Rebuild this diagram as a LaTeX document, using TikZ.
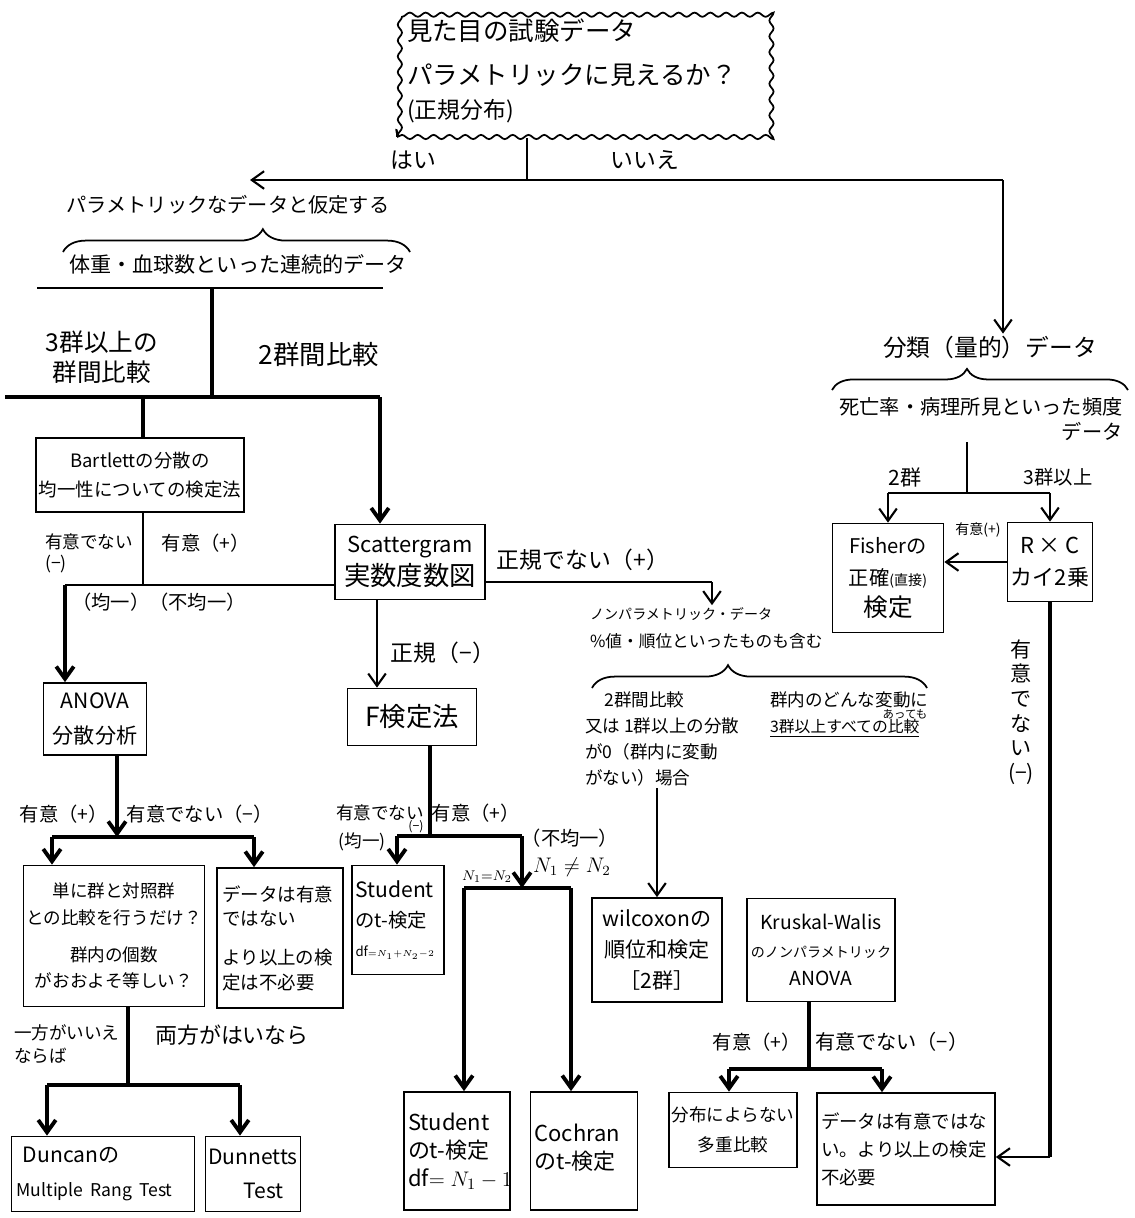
\documentclass[tikz,border=0pt]{standalone}
\usepackage{fontspec}
\setmainfont{Noto Sans CJK JP}
\usepackage{tikz}
\usetikzlibrary{arrows.meta,decorations.pathreplacing,decorations.pathmorphing}
\newcommand{\fz}[2]{\fontsize{#1pt}{#2pt}\selectfont}
\begin{document}
\begin{tikzpicture}[x=0.02cm, y=-0.02cm, inner sep=1pt,
    box/.style={draw, line width=1pt, inner sep=1.5pt, align=center},
    link/.style={line width=1.2pt},
    heavy/.style={line width=2.2pt},
    arr/.style={-{Straight Barb[length=7pt,width=10pt]}},
    brc/.style={decorate, line width=1pt}]
    \useasboundingbox (0,0) rectangle (1134,1218);
    \node (q) [draw, line width=1pt, decorate, decoration={snake, amplitude=1.2pt, segment length=9pt}, text width=7cm, inner xsep=0.2cm, minimum height=2.64cm, align=left, font=\fz{14.5}{19}] at (582,71) {見た目の試験データ\\[6pt]パラメトリックに見えるか？\\{\fz{13}{16}(正規分布)}};
    \coordinate (yn) at (527,180);
    \coordinate (yes) at (250,180);
    \coordinate (no) at (1003,180);
    \draw[link] (q.south -| yn) -- (yn);
    \draw[link,arr] (yn) -- (yes);
    \draw[link] (yn) -- (no);
    \node (lyes) [font=\fz{13}{16}] at (413,160) {はい};
    \node (lno) [font=\fz{13}{16}] at (645,160) {いいえ};

    \node (par) [font=\fz{11.5}{14}] at (228,205) {パラメトリックなデータと仮定する};
    \draw[brc, decoration={brace, amplitude=13pt, aspect=0.576}] (63,252) -- (410,252);
    \node (cont) [font=\fz{12}{14}] at (238,264) {体重・血球数といった連続的データ};
    \coordinate (p1a) at (37,288);
    \coordinate (p1b) at (383,288);
    \coordinate (p1c) at (212,288);
    \draw[link] (p1a) -- (p1b);
    \coordinate (p2a) at (5,397);
    \coordinate (p2b) at (380,397);
    \coordinate (p2c) at (212,397);
    \coordinate (p2d) at (143,397);
    \draw[heavy] (p1c) -- (p2c);
    \draw[heavy] (p2a) -- (p2b);
    \node (l3g) [font=\fz{14}{17}, align=center] at (102,357) {3群以上の\\群間比較};
    \node (l2g) [font=\fz{15}{18}] at (319,355) {2群間比較};

    \node (bart) [box, minimum width=4.08cm, minimum height=1.48cm, font=\fz{10.5}{17}] at (140,475) {Bartlettの分散の\\均一性についての検定法};
    \draw[heavy] (p2d) -- (bart.north -| p2d);
    \node (scat) [box, minimum width=3cm, minimum height=1.5cm, font=\fz{12.5}{19}] at (410,562) {Scattergram\\{\fz{15}{19}実数度数図}};
    \draw[heavy,arr] (p2b) -- (scat.north -| p2b);
    \coordinate (b1) at (143,585);
    \coordinate (b1a) at (65,585);
    \draw[link] (bart.south -| b1) -- (b1);
    \draw[link] (b1a) -- (scat.west |- b1a);
    \node (anova) [box, minimum width=2.06cm, minimum height=1.44cm, font=\fz{12}{20}] at (95,719) {ANOVA\\分散分析};
    \draw[heavy,arr] (b1a) -- (anova.north -| b1a);
    \node (lbn) [anchor=west, font=\fz{10}{12}, align=left] at (43,553) {有意でない\\(−)};
    \node (lbs) [font=\fz{11}{12}] at (206,543) {有意（+）};
    \node (lbu) [font=\fz{11}{12}] at (159,602) {（均一）（不均一）};

    \coordinate (a1) at (117,837);
    \coordinate (a1a) at (52,837);
    \coordinate (a1b) at (254,837);
    \draw[heavy,arr] (anova.south -| a1) -- (a1);
    \draw[heavy] (a1a) -- (a1b);
    \node (sg1) [box, minimum width=3.6cm, minimum height=2.82cm, font=\fz{10}{15}] at (114,936) {単に群と対照群\\との比較を行うだけ？\\[6pt]群内の個数\\がおおよそ等しい？};
    \node (sg2) [box, text width=2.3cm, inner xsep=0.11cm, minimum height=2.8cm, align=left, font=\fz{10.5}{14}] at (280,938) {データは有意\\ではない\\[8pt]より以上の検\\定は不必要};
    \draw[heavy,arr] (a1a) -- (sg1.north -| a1a);
    \draw[heavy,arr] (a1b) -- (sg2.north -| a1b);
    \node (lap) [font=\fz{11}{12}] at (64,814) {有意（+）};
    \node (lan) [font=\fz{11}{12}] at (200,814) {有意でない（−）};

    \coordinate (c1) at (128,1085);
    \coordinate (c1a) at (47,1085);
    \coordinate (c1b) at (240,1085);
    \draw[heavy] (sg1.south -| c1) -- (c1);
    \draw[heavy] (c1a) -- (c1b);
    \node (dunc) [box, text width=3.46cm, inner xsep=0.1cm, minimum height=1.5cm, align=left, font=\fz{12}{19}] at (103,1174) {\hspace{0.3em}Duncanの\\{\fz{10}{12}Multiple Rang Test}};
    \node (dunn) [box, minimum width=1.86cm, minimum height=1.5cm, font=\fz{12}{19}] at (253,1174) {Dunnetts\\\hspace{1em}Test};
    \draw[heavy,arr] (c1a) -- (dunc.north -| c1a);
    \draw[heavy,arr] (c1b) -- (dunn.north -| c1b);
    \node (lone) [anchor=west, font=\fz{10}{13}, align=left] at (12,1044) {一方がいいえ\\ならば};
    \node (lboth) [font=\fz{12.5}{14}] at (232,1035) {両方がはいなら};

    \node (ftest) [box, minimum width=2.58cm, minimum height=1.14cm, font=\fz{15}{18}] at (412,717) {F検定法};
    \coordinate (fx) at (377,600);
    \draw[link,arr] (fx) -- (fx |- ftest.north);
    \node (lnorm) [font=\fz{13}{15}] at (443,653) {正規（−）};
    \coordinate (d1) at (430,836);
    \coordinate (d1a) at (397,836);
    \coordinate (d1b) at (522,836);
    \draw[heavy] (ftest.south -| d1) -- (d1);
    \draw[heavy] (d1a) -- (d1b);
    \node (stud1) [box, text width=1.7cm, inner xsep=0.07cm, minimum height=2.18cm, align=left, font=\fz{12}{17}] at (398,920) {Student\\{\fz{11}{17}のt-検定}\\{\fz{7.5}{10}\mbox{df$\scriptstyle=N_1+N_2-2$}}};
    \draw[heavy,arr] (d1a) -- (stud1.north -| d1a);
    \coordinate (e1) at (522,888);
    \coordinate (e1a) at (464,888);
    \coordinate (e1b) at (571,888);
    \draw[heavy,arr] (d1b) -- (e1);
    \draw[heavy] (e1a) -- (e1b);
    \node (stud2) [box, text width=1.96cm, inner xsep=0.08cm, minimum height=2.36cm, align=left, font=\fz{12.5}{16}] at (457,1151) {Student\\のt-検定\\\mbox{df$=N_1-1$}};
    \node (coch) [box, text width=1.98cm, inner xsep=0.08cm, text depth=0.75cm, minimum height=2.36cm, align=left, font=\fz{12.5}{16}] at (584,1151) {Cochran\\のt-検定};
    \draw[heavy,arr] (e1a) -- (stud2.north -| e1a);
    \draw[heavy,arr] (e1b) -- (coch.north -| e1b);
    \node (lfn) [font=\fz{10}{12}] at (380,813) {有意でない};
    \node (lfm) [font=\fz{7}{8}] at (416,827) {(−)};
    \node (lfu) [font=\fz{10}{12}] at (362,842) {(均一)};
    \node (lfp) [font=\fz{11}{12}] at (476,813) {有意（+）};
    \node (lfv) [font=\fz{11}{12}] at (570,838) {（不均一）};
    \node (lne) [font=\fz{12}{14}] at (572,867) {$N_1\neq N_2$};
    \node (leq) [font=\fz{8}{10}] at (487,877) {$N_1{=}N_2$};

    \coordinate (n0) at (712,582);
    \draw[link] (scat.east |- n0) -- (n0);
    \node (lnn) [font=\fz{13}{15}] at (583,560) {正規でない（+）};
    \node (np) [anchor=west, font=\fz{9.5}{16}, align=left] at (588,628) {{\fz{8}{16}ノンパラメトリック・データ}\\\%値・順位といったものも含む};
    \draw[link,arr] (n0) -- (n0 |- np.north);
    \draw[brc, decoration={brace, amplitude=13pt, aspect=0.406}] (592,688) -- (927,688);
    \node (np2) [anchor=north west, font=\fz{10}{14.7}, align=left] at (583,690) {\hspace{1.1em}2群間比較\\又は 1群以上の分散\\が0（群内に変動\\がない）場合};
    \node (np3) [anchor=north west, font=\fz{10}{14.7}, align=left] at (768,690) {群内のどんな変動に\\\underline{\fz{9}{14.7}3群以上すべての比較}};
    \node (np4) [font=\fz{6.5}{7}] at (905,714) {あっても};

    \node (wil) [box, minimum width=2.6cm, minimum height=2.08cm, font=\fz{12}{17.5}] at (657,950) {wilcoxonの\\順位和検定\\［2群］};
    \draw[link,arr] (np2.south -| wil.north) -- (wil.north);
    \node (krus) [box, minimum width=2.96cm, minimum height=2.06cm, font=\fz{11}{16}] at (821,950) {Kruskal-Walis\\{\fz{8}{16}のノンパラメトリック}\\ANOVA};
    \coordinate (k1) at (809,1069);
    \coordinate (k1a) at (729,1069);
    \coordinate (k1b) at (882,1069);
    \draw[heavy] (krus.south -| k1) -- (k1);
    \draw[heavy] (k1a) -- (k1b);
    \node (dist) [box, minimum width=2.54cm, minimum height=1.5cm, font=\fz{10}{17}] at (733,1130) {分布によらない\\多重比較};
    \node (nsig) [box, text width=3.4cm, inner xsep=0.08cm, minimum height=2.24cm, align=left, font=\fz{10.5}{16}] at (906,1149) {データは有意ではな\\い。より以上の検定\\不必要};
    \draw[heavy,arr] (k1a) -- (dist.north -| k1a);
    \draw[heavy,arr] (k1b) -- (nsig.north -| k1b);
    \node (lkp) [font=\fz{11}{12}] at (757,1042) {有意（+）};
    \node (lkn) [font=\fz{11.5}{12}] at (892,1042) {有意でない（−）};

    \node (cat) [font=\fz{13.5}{16}] at (990,347) {分類（量的）データ};
    \draw[link,arr] (no) -- (no |- cat.north);
    \draw[brc, decoration={brace, amplitude=12pt, aspect=0.456}] (832,390) -- (1128,390);
    \node (cat2) [font=\fz{11.5}{14}, align=right] at (981,419) {死亡率・病理所見といった頻度\\データ};
    \coordinate (f1) at (967,493);
    \coordinate (f1a) at (888,493);
    \coordinate (f1b) at (1050,493);
    \draw[link] (cat2.south -| f1) -- (f1);
    \draw[link] (f1a) -- (f1b);
    \node (l2) [font=\fz{12}{14}] at (905,477) {2群};
    \node (l3) [font=\fz{11}{14}] at (1058,477) {3群以上};
    \node (fish) [box, minimum width=2.22cm, minimum height=2.18cm, font=\fz{11.5}{18}] at (888,578) {Fisherの\\正確{\fz{8}{18}(直接)}\\{\fz{14}{18}検定}};
    \node (rc) [box, minimum width=1.7cm, minimum height=1.58cm, font=\fz{12.5}{18}] at (1050,562) {R × C\\カイ2乗};
    \draw[link,arr] (f1a) -- (fish.north -| f1a);
    \draw[link,arr] (f1b) -- (rc.north -| f1b);
    \draw[link,arr] (rc.west) -- (rc.west -| fish.east);
    \node (lrp) [font=\fz{8}{9}] at (978,530) {有意(+)};
    \node (lrn) [font=\fz{12}{14}, align=center] at (1021,712) {有\\意\\で\\な\\い\\(−)};
    \coordinate (r1) at (1050,1157);
    \draw[heavy] (rc.south) -- (r1);
    \draw[link,arr] (r1) -- (r1 -| nsig.east);
\end{tikzpicture}
\end{document}
